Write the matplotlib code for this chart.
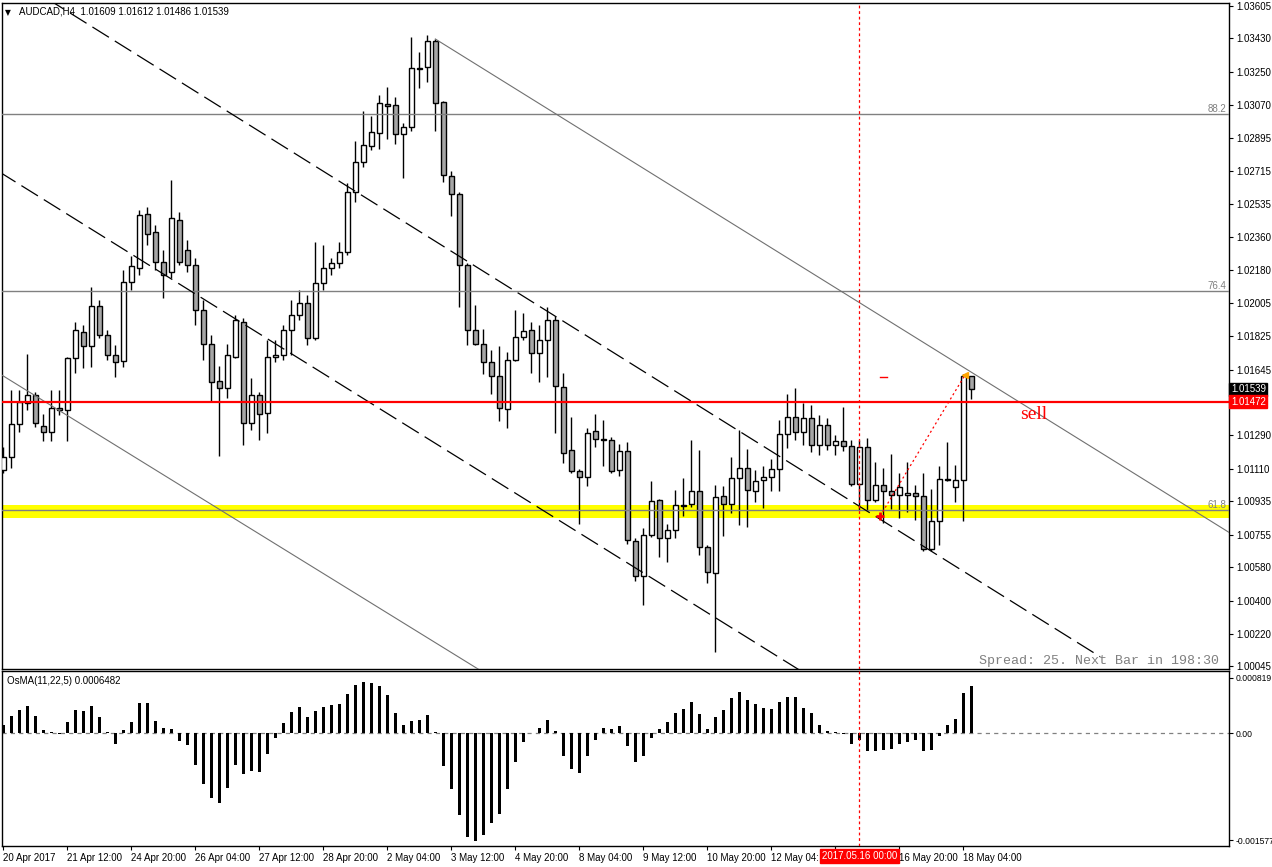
import matplotlib
matplotlib.use("Agg")
import matplotlib.pyplot as plt

# ---------------- data ----------------
opens = [1.01104, 1.01174, 1.01352, 1.01465, 1.01508, 1.01341, 1.01309, 1.01438, 1.01427, 1.01707,
         1.01848, 1.01772, 1.01988, 1.01831, 1.01724, 1.01691, 1.02117, 1.02193, 1.02484, 1.02387,
         1.02225, 1.02171, 1.02451, 1.02290, 1.02209, 1.01966, 1.01783, 1.01583, 1.01546, 1.01713,
         1.01901, 1.01357, 1.01508, 1.01411, 1.01713, 1.01724, 1.01858, 1.01939, 1.02004, 1.01815,
         1.02112, 1.02193, 1.02219, 1.02279, 1.02602, 1.02764, 1.02850, 1.02920, 1.03076, 1.03071,
         1.02915, 1.02953, 1.03271, 1.03276, 1.03416, 1.03087, 1.02688, 1.02591, 1.02209, 1.01858,
         1.01783, 1.01686, 1.01610, 1.01433, 1.01697, 1.01821, 1.01858, 1.01734, 1.01804, 1.01912,
         1.01551, 1.01212, 1.01098, 1.01066, 1.01314, 1.01271, 1.01265, 1.01104, 1.01206, 1.00721,
         1.00532, 1.00753, 1.00942, 1.00737, 1.00780, 1.00915, 1.00920, 1.00991, 1.00689, 1.00549,
         1.00964, 1.00920, 1.01061, 1.01115, 1.00991, 1.01050, 1.01066, 1.01109, 1.01298, 1.01389,
         1.01309, 1.01384, 1.01238, 1.01346, 1.01238, 1.01260, 1.01233, 1.01028, 1.01228, 1.00942,
         1.01023, 1.00991, 1.00969, 1.00969, 1.00980, 1.00964, 1.00678, 1.00829, 1.01055, 1.01012,
         1.01050, 1.01609]
highs = [1.01228, 1.01535, 1.01535, 1.01729, 1.01524, 1.01406, 1.01535, 1.01535, 1.01713, 1.01901,
         1.01885, 1.02090, 1.02020, 1.01858, 1.01777, 1.02182, 1.02257, 1.02505, 1.02521, 1.02424,
         1.02290, 1.02667, 1.02494, 1.02343, 1.02246, 1.02020, 1.01831, 1.01664, 1.01783, 1.01939,
         1.01923, 1.01600, 1.01524, 1.01804, 1.01804, 1.01885, 1.02020, 1.02074, 1.02047, 1.02333,
         1.02316, 1.02246, 1.02333, 1.02651, 1.02877, 1.03039, 1.03012, 1.03125, 1.03168, 1.03114,
         1.02974, 1.03438, 1.03357, 1.03448, 1.03427, 1.03093, 1.02715, 1.02602, 1.02219, 1.01993,
         1.01864, 1.01751, 1.01772, 1.01740, 1.01966, 1.01950, 1.01901, 1.01885, 1.01982, 1.01934,
         1.01627, 1.01389, 1.01109, 1.01330, 1.01406, 1.01373, 1.01282, 1.01244, 1.01255, 1.00737,
         1.00791, 1.01044, 1.00947, 1.00813, 1.00996, 1.01061, 1.01265, 1.01212, 1.00699, 1.01023,
         1.01018, 1.01174, 1.01319, 1.01217, 1.01104, 1.01125, 1.01163, 1.01373, 1.01513, 1.01546,
         1.01465, 1.01454, 1.01400, 1.01384, 1.01292, 1.01443, 1.01265, 1.01265, 1.01276, 1.01147,
         1.01115, 1.01190, 1.01088, 1.01147, 1.01023, 1.01088, 1.01001, 1.01125, 1.01255, 1.01131,
         1.01621, 1.01612]
lows = [1.01088, 1.01115, 1.01309, 1.01427, 1.01336, 1.01260, 1.01260, 1.01400, 1.01260, 1.01627,
        1.01654, 1.01659, 1.01815, 1.01697, 1.01605, 1.01659, 1.02074, 1.02155, 1.02316, 1.02182,
        1.02031, 1.02139, 1.02209, 1.02171, 1.01885, 1.01697, 1.01470, 1.01179, 1.01492, 1.01707,
        1.01238, 1.01319, 1.01265, 1.01303, 1.01686, 1.01697, 1.01724, 1.01912, 1.01777, 1.01804,
        1.02074, 1.02155, 1.02193, 1.02263, 1.02548, 1.02737, 1.02829, 1.02834, 1.02888, 1.02861,
        1.02678, 1.02931, 1.03163, 1.03195, 1.02931, 1.02656, 1.02473, 1.01982, 1.01777, 1.01777,
        1.01621, 1.01513, 1.01368, 1.01330, 1.01691, 1.01804, 1.01627, 1.01578, 1.01605, 1.01303,
        1.01141, 1.01088, 1.00813, 1.01018, 1.01228, 1.01125, 1.01088, 1.01071, 1.00705, 1.00505,
        1.00376, 1.00743, 1.00635, 1.00608, 1.00737, 1.00856, 1.00904, 1.00646, 1.00495, 1.00123,
        1.00748, 1.00872, 1.00807, 1.00797, 1.00931, 1.00899, 1.00991, 1.00991, 1.01222, 1.01265,
        1.01238, 1.01201, 1.01185, 1.01212, 1.01185, 1.01206, 1.01018, 1.00888, 1.00888, 1.00931,
        1.00818, 1.00894, 1.00845, 1.00877, 1.00834, 1.00667, 1.00667, 1.00699, 1.01044, 1.00931,
        1.00829, 1.01486]
closes = [1.01174, 1.01352, 1.01470, 1.01508, 1.01357, 1.01309, 1.01438, 1.01427, 1.01707, 1.01858,
          1.01772, 1.01988, 1.01831, 1.01724, 1.01686, 1.02117, 1.02203, 1.02478, 1.02376, 1.02225,
          1.02155, 1.02462, 1.02225, 1.02209, 1.01966, 1.01783, 1.01578, 1.01546, 1.01724, 1.01912,
          1.01357, 1.01508, 1.01406, 1.01713, 1.01724, 1.01858, 1.01939, 1.02004, 1.01815, 1.02112,
          1.02193, 1.02219, 1.02279, 1.02602, 1.02764, 1.02855, 1.02926, 1.03082, 1.03066, 1.02915,
          1.02953, 1.03271, 1.03265, 1.03416, 1.03082, 1.02694, 1.02591, 1.02209, 1.01858, 1.01783,
          1.01686, 1.01610, 1.01438, 1.01697, 1.01821, 1.01853, 1.01734, 1.01804, 1.01912, 1.01557,
          1.01195, 1.01098, 1.01066, 1.01303, 1.01271, 1.01265, 1.01098, 1.01206, 1.00726, 1.00532,
          1.00753, 1.00937, 1.00737, 1.00780, 1.00915, 1.00910, 1.00991, 1.00689, 1.00554, 1.00958,
          1.00920, 1.01061, 1.01115, 1.00996, 1.01044, 1.01066, 1.01109, 1.01298, 1.01389, 1.01309,
          1.01384, 1.01238, 1.01346, 1.01238, 1.01260, 1.01233, 1.01028, 1.01228, 1.00942, 1.01023,
          1.00991, 1.00969, 1.01012, 1.00980, 1.00964, 1.00678, 1.00829, 1.01055, 1.01050, 1.01050,
          1.01610, 1.01539]
osma = [0.000118, 0.000252, 0.000351, 0.000400, 0.000252, 0.000055, 0.000015, -0.000010, 0.000163, 0.000351,
        0.000326, 0.000400, 0.000237, 0.000019, -0.000158, 0.000044, 0.000163, 0.000444, 0.000444, 0.000178,
        0.000074, 0.000059, -0.000118, -0.000173, -0.000459, -0.000740, -0.000958, -0.001032, -0.000810, -0.000469,
        -0.000602, -0.000558, -0.000573, -0.000306, -0.000070, 0.000148, 0.000311, 0.000385, 0.000237, 0.000326,
        0.000385, 0.000419, 0.000429, 0.000577, 0.000710, 0.000765, 0.000736, 0.000696, 0.000562, 0.000296,
        0.000118, 0.000178, 0.000192, 0.000266, 0.000015, -0.000484, -0.000824, -0.001209, -0.001520, -0.001579,
        -0.001499, -0.001328, -0.001188, -0.000824, -0.000425, -0.000129, 0.000005, 0.000074, 0.000192, 0.000030,
        -0.000326, -0.000528, -0.000588, -0.000326, -0.000099, 0.000074, 0.000059, 0.000104, -0.000188, -0.000425,
        -0.000336, -0.000070, 0.000059, 0.000163, 0.000296, 0.000355, 0.000459, 0.000281, 0.000059, 0.000237,
        0.000340, 0.000518, 0.000607, 0.000488, 0.000429, 0.000370, 0.000355, 0.000459, 0.000533, 0.000533,
        0.000370, 0.000296, 0.000118, 0.000030, 0.000015, -0.000015, -0.000158, -0.000104, -0.000262, -0.000262,
        -0.000247, -0.000232, -0.000158, -0.000129, -0.000099, -0.000262, -0.000247, -0.000040, 0.000118, 0.000207,
        0.000592, 0.000696]

price_ticks = [1.03605, 1.03430, 1.03250, 1.03070, 1.02895, 1.02715, 1.02535, 1.02360, 1.02180, 1.02005,
               1.01825, 1.01645, 1.01290, 1.01110, 1.00935, 1.00755, 1.00580, 1.00400, 1.00220, 1.00045]
osma_ticks = [0.000819, 0.0, -0.001577]
osma_tick_labels = ["0.000819", "0.00", "-0.001577"]
time_tick_bars = [0, 8, 16, 24, 32, 40, 48, 56, 64, 72, 80, 88, 96, 104, 112, 120]
time_tick_labels = ["20 Apr 2017", "21 Apr 12:00", "24 Apr 20:00", "26 Apr 04:00", "27 Apr 12:00",
                    "28 Apr 20:00", "2 May 04:00", "3 May 12:00", "4 May 20:00", "8 May 04:00",
                    "9 May 12:00", "10 May 20:00", "12 May 04:", "", "16 May 20:00", "18 May 04:00"]

sell_level = 1.01472
last_price = 1.01539
fibo_levels = [1.03023, 1.02069, 1.00887]
fibo_labels = ["88.2", "76.4", "61.8"]
yellow_zone = (1.00845, 1.00915)
marked_bar = 107
marked_label = "2017.05.16 00:00"
# trend / channel line anchors (bar index, price)
channel_a = ([4.6, 137.1], [1.03668, 1.00097])
channel_b = ([-1.7, 99.6], [1.02743, 1.00023])
line_c = ([-1.0, 59.6], [1.01637, 1.00024])
line_d = ([54.0, 154.0], [1.03427, 1.00746])
red_trend = ([109.6, 120.2], [1.00856, 1.01616])
red_dash = ([109.6, 110.5], [1.01605, 1.01605])
sell_text_pos = (127.1, 1.01379)

# ---------------- figure ----------------
W, H = 1272, 867
fig = plt.figure(figsize=(W / 100, H / 100), dpi=100)
fig.patch.set_facecolor("white")
plt.rcParams["lines.scale_dashes"] = False
FONT = ["Liberation Sans", "DejaVu Sans"]


def rect(x0, y0, x1, y1):
    return [x0 / W, 1 - y1 / H, (x1 - x0) / W, (y1 - y0) / H]


def px(x, y):
    return x / W, 1 - y / H


ax = fig.add_axes(rect(2, 3, 1229, 669))
ax2 = fig.add_axes(rect(2, 671, 1229, 846))

n = len(opens)
xs = list(range(n))
x_left, x_right = -0.1625, 153.2
for a in (ax, ax2):
    a.set_xlim(x_left, x_right)
    a.set_facecolor("white")
    for s in a.spines.values():
        s.set_color("black")
        s.set_linewidth(1.0)

ax.set_ylim(1.00031, 1.03621)
ax2.set_ylim(-0.00166, 0.00092)

# yellow zone
ax.axhspan(yellow_zone[0], yellow_zone[1], color="#ffff00", zorder=0.5, lw=0)

# candles
bull_c = "white"
bear_c = "#a6a6a6"
ax.vlines(xs, lows, highs, color="black", lw=1.0, zorder=2)
bottoms = [min(o, c) for o, c in zip(opens, closes)]
heights = [abs(c - o) for o, c in zip(opens, closes)]
colors = [bull_c if c >= o else bear_c for o, c in zip(opens, closes)]
ax.bar(xs, heights, bottom=bottoms, width=0.58, color=colors, edgecolor="black",
       linewidth=1.0, zorder=3)

# horizontal levels
for lvl, lab in zip(fibo_levels, fibo_labels):
    ax.axhline(lvl, color="#808080", lw=1.0, zorder=4)
    ax.text(0.998, lvl, lab, transform=ax.get_yaxis_transform(), ha="right", va="bottom",
            color="#808080", fontsize=7, family=FONT, zorder=6)
ax.axhline(sell_level, color="#ff0000", lw=1.6, zorder=5)

# channel and trend lines
ax.plot(*channel_a, color="black", lw=0.9, ls=(0, (14, 5)), zorder=4)
ax.plot(*channel_b, color="black", lw=0.9, ls=(0, (14, 5)), zorder=4)
ax.plot(*line_c, color="#707070", lw=0.8, zorder=4)
ax.plot(*line_d, color="#707070", lw=0.8, zorder=4)
ax.plot(*red_trend, color="#ff0000", lw=0.9, ls=(0, (1.5, 2.0)), zorder=6)
ax.plot([red_trend[0][0]], [red_trend[1][0]], marker="+", color="#ff0000", ms=6, mew=2, zorder=7)
ax.plot([red_trend[0][1]], [red_trend[1][1]], marker="<", color="#ffa500", ms=4, zorder=7)
ax.plot(*red_dash, color="#ff0000", lw=1.0, zorder=6)

# vertical marker line
for a in (ax, ax2):
    a.axvline(marked_bar, color="#ff0000", lw=0.9, ls=(0, (2, 2)), zorder=6)

ax.text(*sell_text_pos, "sell", color="#ff0000", fontsize=14, family=["Liberation Serif", "DejaVu Serif"],
        ha="left", va="baseline", zorder=7)

# main price axis on the right
ax.yaxis.tick_right()
ax.set_yticks(price_ticks)
ax.set_yticklabels([f"{t:.5f}" for t in price_ticks])
ax.tick_params(axis="y", direction="out", length=3, width=0.8, pad=2, labelsize=7,
               right=True, left=False, labelright=True, labelleft=False)
for lbl in ax.get_yticklabels():
    lbl.set_family(FONT)
ax.set_xticks([])

# price boxes
ax.text(1.0015, last_price, "1.01539", transform=ax.get_yaxis_transform(), ha="left", va="center",
        color="white", fontsize=7, family=FONT, zorder=10, clip_on=False,
        bbox=dict(boxstyle="square,pad=0.15", fc="black", ec="black"))
ax.text(1.0015, sell_level, "1.01472", transform=ax.get_yaxis_transform(), ha="left", va="center",
        color="white", fontsize=7, family=FONT, zorder=10, clip_on=False,
        bbox=dict(boxstyle="square,pad=0.15", fc="#ff0000", ec="#ff0000"))

# OsMA panel
ax2.axhline(0, color="#808080", lw=0.9, ls=(0, (3, 3)), zorder=1)
ax2.bar(xs, osma, width=0.36, color="black", zorder=3)
ax2.yaxis.tick_right()
ax2.set_yticks(osma_ticks)
ax2.set_yticklabels(osma_tick_labels)
ax2.tick_params(axis="y", direction="out", length=3, width=0.8, pad=1.5, labelsize=6.2,
                right=True, left=False, labelright=True, labelleft=False)
ax2.set_xticks(time_tick_bars)
ax2.set_xticklabels(time_tick_labels)
ax2.tick_params(axis="x", direction="out", length=3, width=0.8, pad=2, labelsize=7)
for lbl in ax2.get_xticklabels() + ax2.get_yticklabels():
    lbl.set_family(FONT)
for lbl in ax2.get_xticklabels():
    lbl.set_ha("left")

# headers and overlays
fig.text(*px(5, 15), "\u25BC", fontsize=5.5, family=["DejaVu Sans"], va="baseline", ha="left")
fig.text(*px(19, 15), "AUDCAD,H4  1.01609 1.01612 1.01486 1.01539", fontsize=7, family=FONT,
         va="baseline", ha="left")
fig.text(*px(7, 684), "OsMA(11,22,5) 0.0006482", fontsize=7, family=FONT, va="baseline", ha="left")
fig.text(*px(979, 661), "Spread: 25. Next Bar in 198:30", fontsize=9.6,
         family=["Liberation Mono", "DejaVu Sans Mono"], color="#808080", va="center", ha="left")
fig.text(*px(822, 856), marked_label, fontsize=7, family=FONT, color="white", va="center", ha="left",
         bbox=dict(boxstyle="square,pad=0.2", fc="#ff0000", ec="#ff0000"), zorder=20)

fig.savefig("out.png", dpi=100, facecolor="white")
